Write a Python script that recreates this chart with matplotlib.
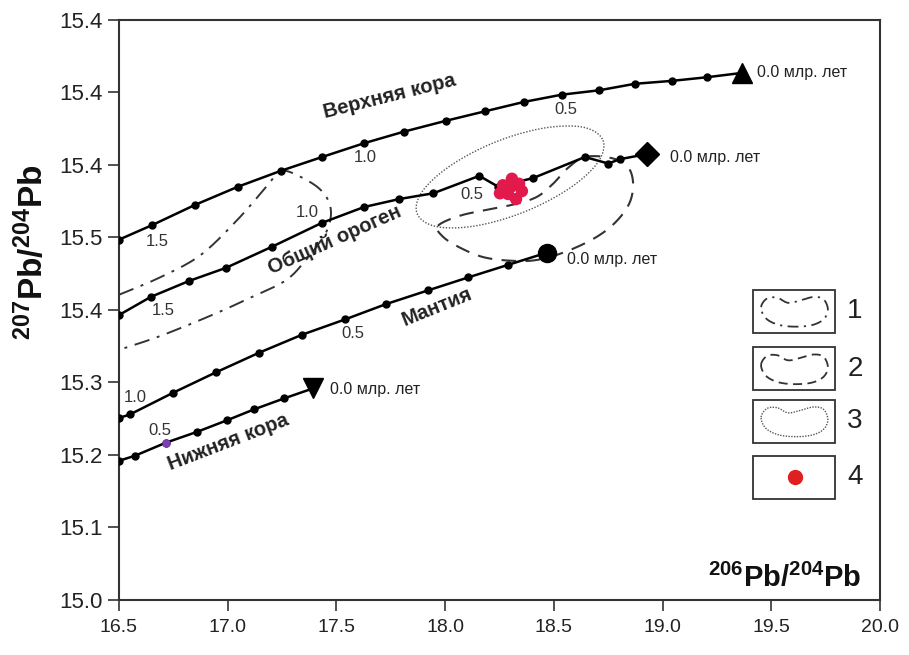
import numpy as np
import matplotlib
matplotlib.use("Agg")
import matplotlib.pyplot as plt
from matplotlib.patches import Rectangle

plt.rcParams['font.family'] = ['Liberation Sans', 'DejaVu Sans']
plt.rcParams['mathtext.fontset'] = 'custom'
plt.rcParams['mathtext.bf'] = 'Liberation Sans:bold'
plt.rcParams['mathtext.rm'] = 'Liberation Sans'

# ---------------- data ----------------
upper_x = [16.50, 16.652, 16.850, 17.047, 17.245, 17.434, 17.627, 17.811, 18.004,
           18.183, 18.363, 18.537, 18.708, 18.873, 19.043, 19.204, 19.365]
upper_y = [15.497, 15.517, 15.545, 15.570, 15.592, 15.611, 15.630, 15.646, 15.661,
           15.674, 15.687, 15.697, 15.703, 15.712, 15.716, 15.721, 15.727]

orogen_x = [16.50, 16.646, 16.822, 16.991, 17.202, 17.432, 17.627, 17.789, 17.946,
            18.157, 18.244, 18.405, 18.643, 18.750, 18.804, 18.927]
orogen_y = [15.393, 15.418, 15.440, 15.458, 15.487, 15.520, 15.542, 15.553, 15.561,
            15.585, 15.570, 15.582, 15.611, 15.602, 15.608, 15.615]

mantle_x = [16.50, 16.551, 16.750, 16.946, 17.144, 17.343, 17.540, 17.727, 17.921,
            18.107, 18.287, 18.467]
mantle_y = [15.251, 15.256, 15.286, 15.314, 15.341, 15.366, 15.387, 15.408, 15.427,
            15.445, 15.462, 15.479]

lower_x = [16.50, 16.574, 16.716, 16.860, 16.998, 17.122, 17.259, 17.394]
lower_y = [15.192, 15.199, 15.217, 15.232, 15.248, 15.263, 15.278, 15.292]

samples_x = [18.266, 18.307, 18.340, 18.353, 18.326, 18.289, 18.252, 18.303]
samples_y = [15.572, 15.581, 15.574, 15.564, 15.553, 15.560, 15.561, 15.570]

# field 1 (dash-dot), open outline clipped by the left axis
field1_x = [16.50, 16.689, 16.872, 17.034, 17.158, 17.222, 17.259, 17.319, 17.411,
            17.461, 17.475, 17.457, 17.415, 17.360, 17.268, 17.112, 16.928, 16.689, 16.50]
field1_y = [15.421, 15.445, 15.475, 15.521, 15.563, 15.586, 15.592, 15.586, 15.570,
            15.552, 15.532, 15.510, 15.490, 15.469, 15.441, 15.418, 15.393, 15.364, 15.345]

# field 2 (dashed), closed outline
field2_x = [17.967, 18.068, 18.206, 18.321, 18.422, 18.496, 18.565, 18.643, 18.758,
            18.836, 18.864, 18.850, 18.790, 18.698, 18.560, 18.422, 18.298, 18.174,
            18.068, 17.990]
field2_y = [15.516, 15.530, 15.539, 15.546, 15.556, 15.574, 15.596, 15.611, 15.610,
            15.599, 15.577, 15.549, 15.523, 15.501, 15.481, 15.469, 15.468, 15.473,
            15.486, 15.501]

# field 3 (dotted), closed outline
field3_x = [18.726, 18.701, 18.568, 18.362, 18.140, 17.960, 17.871, 17.896, 18.029,
            18.234, 18.456, 18.636]
field3_y = [15.634, 15.603, 15.567, 15.535, 15.516, 15.515, 15.533, 15.564, 15.600,
            15.632, 15.651, 15.652]

yticks = [15.0, 15.1, 15.2, 15.3, 15.4, 15.5, 15.6, 15.7, 15.8]
ytick_labels = ["15.0", "15.1", "15.2", "15.3", "15.4", "15.5", "15.4", "15.4", "15.4"]
xticks = [16.5, 17.0, 17.5, 18.0, 18.5, 19.0, 19.5, 20.0]
xtick_labels = ["16.5", "17.0", "17.5", "18.0", "18.5", "19.0", "19.5", "20.0"]


def smooth(xs, ys, closed, n=12):
    """Catmull-Rom smoothing of an outline for drawing."""
    P = np.column_stack([xs, ys])
    if closed:
        P = np.vstack([P[-1], P, P[0], P[1]])
    else:
        P = np.vstack([P[0], P, P[-1]])
    out = []
    for i in range(1, len(P) - 2):
        p0, p1, p2, p3 = P[i - 1], P[i], P[i + 1], P[i + 2]
        for t in np.linspace(0, 1, n, endpoint=False):
            t2, t3 = t * t, t * t * t
            out.append(0.5 * ((2 * p1) + (-p0 + p2) * t + (2 * p0 - 5 * p1 + 4 * p2 - p3) * t2
                              + (-p0 + 3 * p1 - 3 * p2 + p3) * t3))
    out.append(P[-2])
    out = np.array(out)
    return out[:, 0], out[:, 1]


fig = plt.figure(figsize=(9.09, 6.55), dpi=100)
ax = fig.add_axes([0.1309, 0.0840, 0.8372, 0.8855])
ax.set_xlim(16.5, 20.0)
ax.set_ylim(15.0, 15.8)

lw = 1.8
# evolution curves
ax.plot(upper_x, upper_y, color='black', lw=lw, marker='o', ms=5, zorder=3)
ax.plot(upper_x[-1], upper_y[-1], marker='^', color='black', ms=14, zorder=4)
ax.plot(orogen_x, orogen_y, color='black', lw=lw, marker='o', ms=5, zorder=3)
ax.plot(orogen_x[-1], orogen_y[-1], marker='D', color='black', ms=12, zorder=4)
ax.plot(mantle_x, mantle_y, color='black', lw=lw, marker='o', ms=5, zorder=3)
ax.plot(mantle_x[-1], mantle_y[-1], marker='o', color='black', ms=13, zorder=4)
ax.plot(lower_x, lower_y, color='black', lw=lw, marker='o', ms=5, zorder=3)
ax.plot(lower_x[-1], lower_y[-1], marker='v', color='black', ms=14, zorder=4)
ax.plot(lower_x[2], lower_y[2], marker='o', color='#7a3fb0', ms=5, zorder=5)

# fields
fx, fy = smooth(field1_x, field1_y, closed=False)
ax.plot(fx, fy, color='#333333', lw=1.4, ls=(0, (8, 4, 1.5, 4)), zorder=2)
fx, fy = smooth(field2_x, field2_y, closed=True)
ax.plot(fx, fy, color='#333333', lw=1.5, ls=(0, (7, 4.5)), zorder=2)
fx, fy = smooth(field3_x, field3_y, closed=True)
ax.plot(fx, fy, color='#555555', lw=1.0, ls=(0, (1, 1.2)), zorder=2)

# samples
ax.scatter(samples_x, samples_y, s=80, color='#e2194b', edgecolors='none', zorder=6)

# age labels
lab = dict(fontsize=12, color='#333333', ha='center', va='center')
for x, y, t in [(16.675, 15.495, "1.5"), (17.631, 15.610, "1.0"), (18.556, 15.676, "0.5"),
                (16.702, 15.399, "1.5"), (17.365, 15.535, "1.0"), (18.124, 15.559, "0.5"),
                (16.574, 15.279, "1.0"), (17.576, 15.368, "0.5"), (16.689, 15.234, "0.5")]:
    ax.text(x, y, t, **lab)

for x, y in [(19.434, 15.727), (19.034, 15.611), (18.560, 15.469), (17.470, 15.290)]:
    ax.text(x, y, "0.0 млр. лет", fontsize=11.5, color='#222222', ha='left', va='center')

name = dict(fontsize=14.5, fontweight='bold', color='#222222', ha='center', va='center',
            rotation_mode='anchor')
ax.text(17.746, 15.695, "Верхняя кора", rotation=14, **name)
ax.text(17.493, 15.497, "Общий ороген", rotation=24, **name)
ax.text(17.963, 15.404, "Мантия", rotation=22, **name)
ax.text(17.001, 15.217, "Нижняя кора", rotation=21, **name)

# legend boxes (axes fraction)
def px2ax(px, py):
    return ((px - 119) / 761.0, (600 - py) / 580.0)

bean_u = [0.06, 0.14, 0.28, 0.42, 0.58, 0.76, 0.90, 0.96, 0.90, 0.74, 0.50, 0.28, 0.12]
bean_v = [0.62, 0.86, 0.88, 0.74, 0.80, 0.90, 0.84, 0.55, 0.28, 0.12, 0.08, 0.14, 0.32]
box_tops = [290, 347.5, 400, 456]
styles = [dict(color='#333333', lw=1.3, ls=(0, (6, 3, 1.2, 3))),
          dict(color='#333333', lw=1.3, ls=(0, (5, 3))),
          dict(color='#555555', lw=1.0, ls=(0, (1, 1)))]
for i, top in enumerate(box_tops):
    x0, y1 = px2ax(752.5, top)
    x1, y0 = px2ax(835, top + 43)
    ax.add_patch(Rectangle((x0, y0), x1 - x0, y1 - y0, transform=ax.transAxes,
                           fill=False, edgecolor='#333333', lw=1.3, zorder=5))
    if i < 3:
        bu, bv = smooth(bean_u, bean_v, closed=True)
        bx = x0 + (x1 - x0) * (0.05 + 0.9 * bu)
        by = y0 + (y1 - y0) * (0.08 + 0.84 * bv)
        ax.plot(bx, by, transform=ax.transAxes, zorder=5, **styles[i])
    else:
        cx, cy = px2ax(795, top + 21.5)
        ax.plot(cx, cy, 'o', color='#e02020', ms=10, transform=ax.transAxes, zorder=6)
    tx, ty = px2ax(855, top + 21.5)
    ax.text(tx, ty, str(i + 1), transform=ax.transAxes, fontsize=20, ha='center',
            va='center', color='#222222')

# axes styling
ax.set_xticks(xticks)
ax.set_xticklabels(xtick_labels)
ax.set_yticks(yticks)
ax.set_yticklabels(ytick_labels)
ax.tick_params(axis='x', direction='out', length=8, width=1.2, labelsize=14, pad=6,
               colors='#333333', labelcolor='#222222')
ax.tick_params(axis='y', direction='out', length=8, width=1.2, labelsize=16, pad=4,
               colors='#333333', labelcolor='#222222')
for s in ax.spines.values():
    s.set_linewidth(1.5)
    s.set_color('#333333')

ax.text(0.976, 0.038, r'$\mathbf{^{206}Pb/^{204}Pb}$', transform=ax.transAxes,
        fontsize=21, ha='right', va='center', color='#111111')
fig.text(32 / 909, 1 - 252 / 655, r'$\mathbf{^{207}Pb/^{204}Pb}$', rotation=90,
         fontsize=24, ha='center', va='center', color='#111111')

fig.savefig("out.png", dpi=100, facecolor='white')
